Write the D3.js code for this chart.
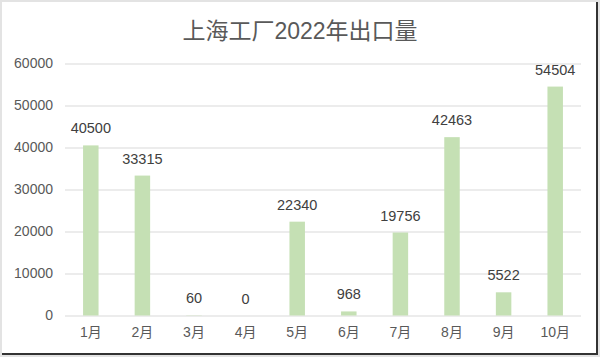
<!DOCTYPE html>
<html>
<head>
<meta charset="utf-8">
<script src="https://cdn.jsdelivr.net/npm/d3@7"></script>
<style>
  body { margin: 0; background: #fff; }
  svg { display: block; overflow: visible; }
</style>
</head>
<body>
<svg width="600" height="357"></svg>
<script>
"use strict";

const title = "上海工厂2022年出口量";
const months = ["1月", "2月", "3月", "4月", "5月", "6月", "7月", "8月", "9月", "10月"];
const exports = [40500, 33315, 60, 0, 22340, 968, 19756, 42463, 5522, 54504];
const yTicks = [0, 10000, 20000, 30000, 40000, 50000, 60000];

const svg = d3.select("svg");
const width = +svg.attr("width");
const height = +svg.attr("height");

// frame: light outer edge, dark right/bottom edge
svg.append("rect").attr("width", width).attr("height", height).attr("fill", "#e3e3e3");
svg.append("rect").attr("x", 2).attr("y", 2).attr("width", 596).attr("height", 353).attr("fill", "#333");
svg.append("rect").attr("x", 2).attr("y", 2).attr("width", 594).attr("height", 351).attr("fill", "#fff");

const margin = { top: 63.5, right: 19, bottom: 41.5, left: 65 };
const innerWidth = width - margin.left - margin.right;
const innerHeight = height - margin.top - margin.bottom;

const data = months.map((m, i) => ({ month: m, value: exports[i] }));

const xScale = d3.scaleBand()
  .domain(months)
  .range([0, innerWidth])
  .paddingInner(0.7)
  .paddingOuter(0.35);

const yScale = d3.scaleLinear()
  .domain([0, 60000])
  .range([innerHeight, 0]);

const g = svg.append("g")
  .attr("transform", `translate(${margin.left},${margin.top})`);

const yAxis = d3.axisLeft(yScale)
  .tickValues(yTicks)
  .tickSize(-innerWidth)
  .tickPadding(12)
  .tickFormat(d3.format("d"));

const yAxisG = g.append("g")
  .call(yAxis)
  .attr("font-family", "'Liberation Sans', Arial, sans-serif")
  .attr("font-size", 14);
yAxisG.select(".domain").remove();
yAxisG.selectAll(".tick line").attr("stroke", "#d9d9d9").attr("stroke-width", 1);
yAxisG.selectAll(".tick text").attr("fill", "#595959");

const xAxis = d3.axisBottom(xScale).tickSize(0).tickPadding(12);
const xAxisG = g.append("g")
  .attr("transform", `translate(0,${innerHeight})`)
  .call(xAxis)
  .attr("font-family", "'Liberation Sans', 'Noto Sans CJK SC', sans-serif")
  .attr("font-size", 14);
xAxisG.select(".domain").remove();
xAxisG.selectAll(".tick text").attr("fill", "#595959");

g.selectAll("rect.bar")
  .data(data)
  .enter()
  .append("rect")
  .attr("class", "bar")
  .attr("x", d => xScale(d.month))
  .attr("y", d => yScale(d.value))
  .attr("width", xScale.bandwidth())
  .attr("height", d => innerHeight - yScale(d.value))
  .attr("fill", "#c5e0b4");

g.selectAll("text.label")
  .data(data)
  .enter()
  .append("text")
  .attr("class", "label")
  .attr("x", d => xScale(d.month) + xScale.bandwidth() / 2)
  .attr("y", d => yScale(d.value) - 12)
  .attr("text-anchor", "middle")
  .attr("fill", "#404040")
  .style("font-family", "'Liberation Sans', Arial, sans-serif")
  .style("font-size", "14.5px")
  .text(d => d.value);

svg.append("text")
  .attr("x", 300)
  .attr("y", 39)
  .attr("text-anchor", "middle")
  .attr("fill", "#595959")
  .style("font-family", "'Liberation Sans', 'Noto Sans CJK SC', sans-serif")
  .style("font-size", "23px")
  .text(title);
</script>
</body>
</html>
